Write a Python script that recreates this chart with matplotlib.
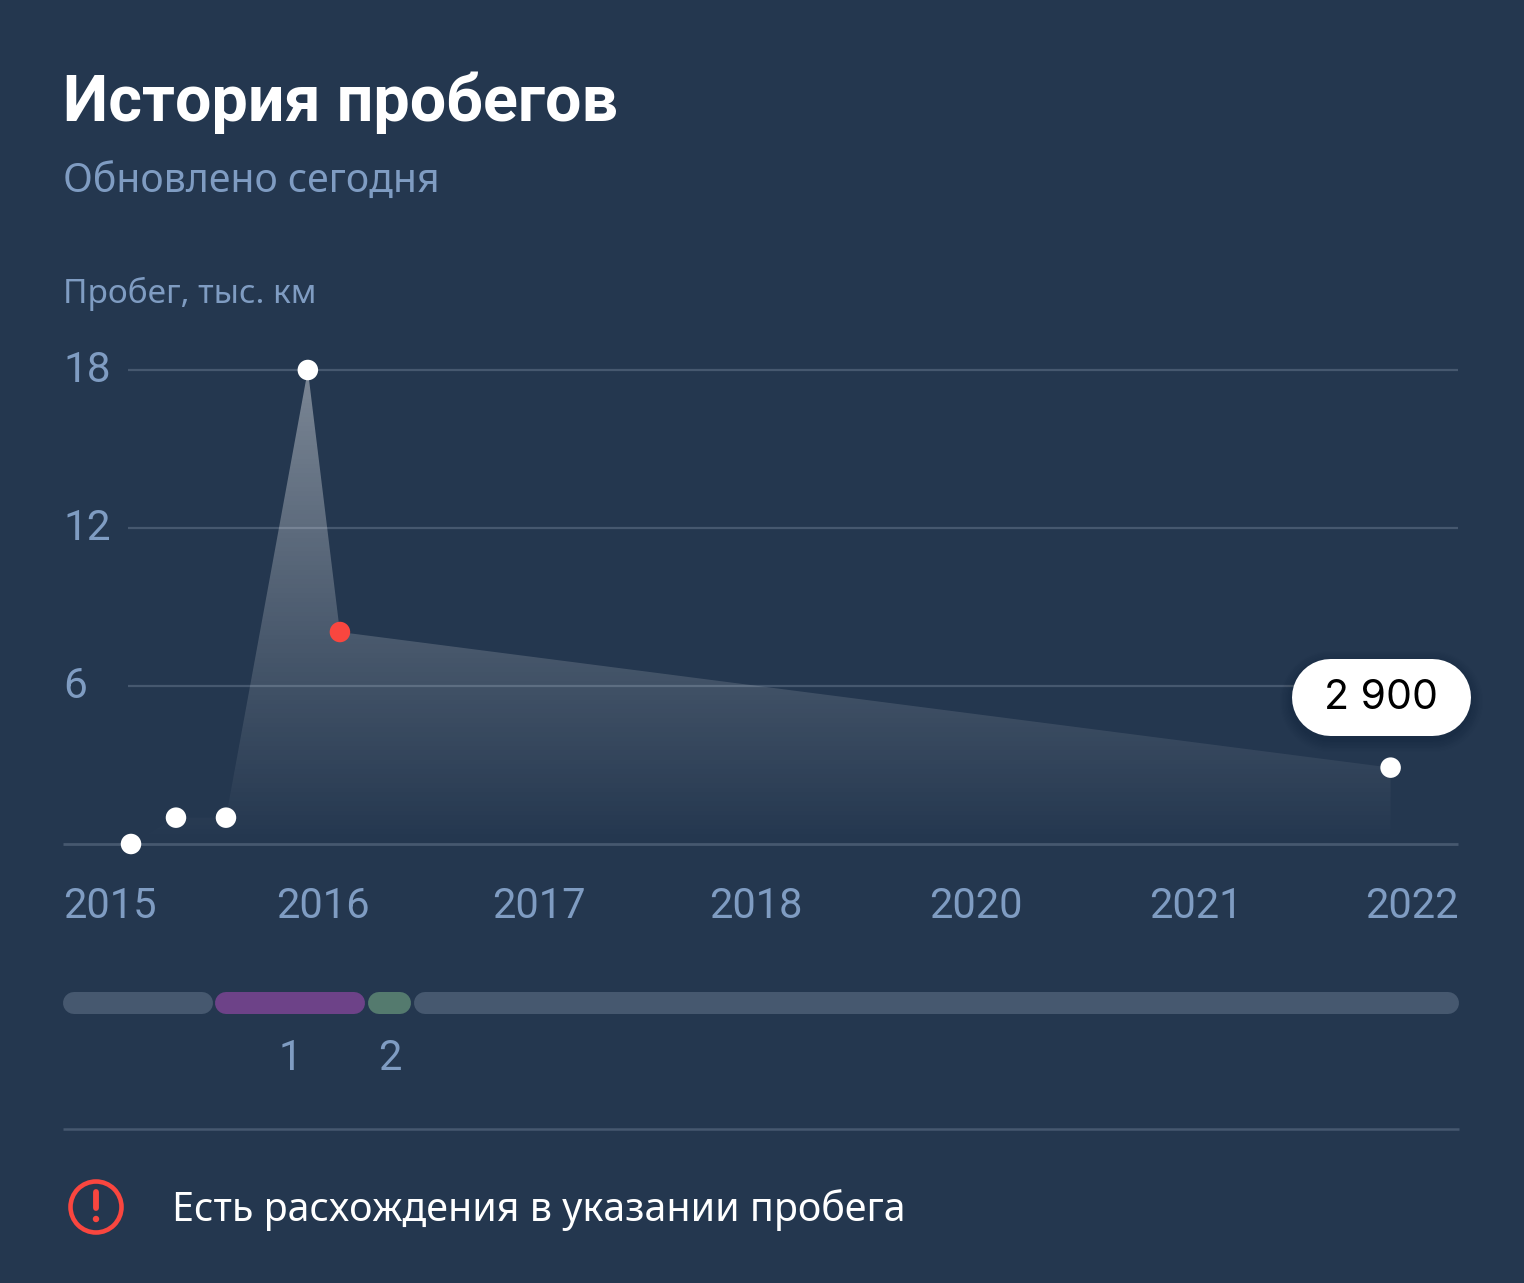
import numpy as np
import matplotlib
matplotlib.use("Agg")
import matplotlib.pyplot as plt
from matplotlib.patches import Circle, Polygon

title = "История пробегов"
subtitle = "Обновлено сегодня"
y_title = "Пробег, тыс. км"
warning = "Есть расхождения в указании пробега"
bubble = "2 900"

# chart values: x is the position on the (irregular) year axis, y thousands of km
x_vals = [0.11, 0.316, 0.545, 0.92, 1.067, 5.88]
y_vals = [0.0, 1.0, 1.0, 18.0, 8.05, 2.9]
point_colors = ["white", "white", "white", "white", "#F9463F", "white"]
y_ticks = [6, 12, 18]
x_labels = ["2015", "2016", "2017", "2018", "2020", "2021", "2022"]
x_label_pos = [0, 0.99, 1.98, 2.97, 3.98, 4.99, 5.98]

# owner bar, in the same px scale as the layout
seg_start = [63, 215, 368, 414]
seg_end = [213, 365, 411, 1459]
seg_colors = ["#46586F", "#6D4288", "#547A6E", "#46586F"]
seg_labels = ["", "1", "2", ""]
seg_label_x = [0, 290, 390, 0]

BG = "#24374F"
BLUE = "#7F9CC2"
GRID = "#46586F"
plt.rcParams["font.family"] = ["Noto Sans", "DejaVu Sans"]

W, H = 1524, 1283
fig = plt.figure(figsize=(W / 100, H / 100), dpi=100, facecolor=BG)

ov = fig.add_axes([0, 0, 1, 1], zorder=1)
ov.set_xlim(0, W); ov.set_ylim(H, 0); ov.axis("off")
top = fig.add_axes([0, 0, 1, 1], zorder=3)
top.set_xlim(0, W); top.set_ylim(H, 0); top.axis("off"); top.patch.set_alpha(0)

L, R, T, B = 63, 1459, 370, 844
ax = fig.add_axes([L / W, 1 - B / H, (R - L) / W, (B - T) / H], zorder=2)
ax.patch.set_alpha(0)
PX = 218.3
ax.set_xlim((L - 107) / PX, (R - 107) / PX)
ax.set_ylim(0, 18)
ax.axis("off")


def pill(a, x0, x1, yc, h, color, **kw):
    a.plot([x0 + h / 2, x1 - h / 2], [yc, yc], color=color, lw=h * 0.72,
           solid_capstyle="round", **kw)


x0 = (128 - L) / (R - L)
for v in y_ticks:
    ax.plot([x0, 0.9995], [v, v], transform=ax.get_yaxis_transform(), color=GRID, lw=1.6, zorder=1,
            clip_on=False, solid_capstyle="butt")
    ov.text(63, B - v / 18 * (B - T) + 1, str(v), color=BLUE, fontsize=30.5, va="center", ha="left",
            family="Roboto")
ax.plot([0, 0.9995], [0, 0], transform=ax.get_yaxis_transform(), color=GRID, lw=2.0, zorder=1,
        clip_on=False, solid_capstyle="butt")

grad = np.zeros((256, 2, 4))
grad[..., :3] = 1.0
grad[..., 3] = np.linspace(0.40, 0.0, 256)[:, None]
xl = ax.get_xlim()
im = ax.imshow(grad, extent=[xl[0], xl[1], 0, 18], aspect="auto", zorder=2, interpolation="bilinear")
poly = Polygon(list(zip(x_vals, y_vals)) + [(x_vals[-1], 0)], closed=True, transform=ax.transData, fc="none", ec="none")
ax.add_patch(poly)
im.set_clip_path(poly)
ax.set_xlim(xl); ax.set_ylim(0, 18)

ax.scatter(x_vals, y_vals, s=(20.5 * 0.72) ** 2, c=point_colors, zorder=4, clip_on=False, linewidths=0)

for i, (p, lab) in enumerate(zip(x_label_pos, x_labels)):
    ha = "left" if i == 0 else ("right" if i == len(x_labels) - 1 else "center")
    xp = L if i == 0 else (R if i == len(x_labels) - 1 else 107 + p * PX)
    ov.text(xp, 906, lab, color=BLUE, fontsize=30, ha=ha, va="center", family="Roboto")

ov.text(63, 103, title, color="white", fontsize=46.5, fontweight="bold", va="center", ha="left", family="Roboto")
ov.text(63, 182, subtitle, color=BLUE, fontsize=28.2, va="center", ha="left")
ov.text(63, 294, y_title, color=BLUE, fontsize=24, va="center", ha="left")

# bubble with soft shadow
bx0, bx1, by0, by1 = 1291.5, 1470.5, 658.5, 735.5
for k in range(10, 0, -1):
    pill(top, bx0 - k * 1.2, bx1 + k * 1.2, (by0 + by1) / 2 + 4, by1 - by0 + k * 2.4, "black", alpha=0.012)
pill(top, bx0, bx1, (by0 + by1) / 2, by1 - by0, "white")
top.text(1381, 698, bubble, color="black", fontsize=29.5, ha="center", va="center", family="Inter")

for s, e, c, lab, lx in zip(seg_start, seg_end, seg_colors, seg_labels, seg_label_x):
    pill(ov, s, e, 1003, 22, c)
    if lab:
        ov.text(lx, 1059, lab, color=BLUE, fontsize=30, ha="center", va="center", family="Roboto")

ov.plot([63, 1459], [1129, 1129], color=GRID, lw=1.8, solid_capstyle="butt")

RED = "#F9463F"
ov.add_patch(Circle((96, 1207), 25.5, fc="none", ec=RED, lw=3.3))
ov.plot([96, 96], [1192, 1208], color=RED, lw=4.2, solid_capstyle="round")
ov.add_patch(Circle((96, 1219), 3.2, fc=RED, ec="none"))
ov.text(172, 1210, warning, color="white", fontsize=28.4, va="center", ha="left")

fig.savefig("out.png", dpi=100, facecolor=BG)
